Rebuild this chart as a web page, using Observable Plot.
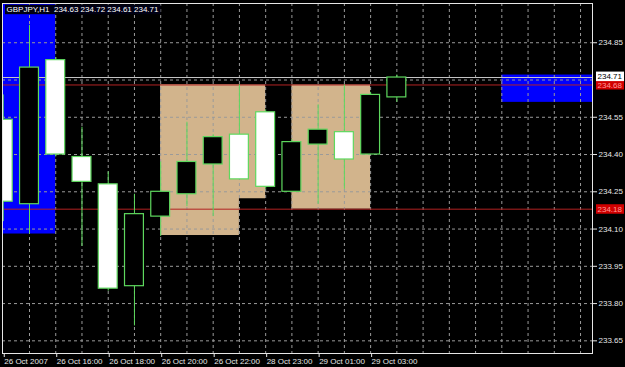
<!DOCTYPE html>
<html><head><meta charset="utf-8">
<script src="https://cdn.jsdelivr.net/npm/d3@7"></script>
<script src="https://cdn.jsdelivr.net/npm/@observablehq/plot@0.6"></script>
<style>html,body{margin:0;padding:0;background:#000;overflow:hidden}</style>
</head><body><div id="chart"></div>
<script>
// ---- data ----
const titleText = "GBPJPY,H1  234.63 234.72 234.61 234.71";
const bars   = [0, 1, 2, 3, 4, 5, 6, 7, 8, 9, 10, 11, 12, 13, 14, 15];
const opens  = [234.54, 234.20, 234.78, 234.39, 234.28, 233.87, 234.15, 234.24, 234.36, 234.48, 234.57, 234.25, 234.44, 234.49, 234.40, 234.63];
const highs  = [234.64, 234.92, 234.79, 234.51, 234.33, 234.24, 234.37, 234.53, 234.48, 234.68, 234.58, 234.46, 234.60, 234.68, 234.65, 234.72];
const lows   = [234.13, 234.08, 234.39, 234.03, 233.85, 233.71, 234.07, 234.19, 234.15, 234.30, 234.26, 234.25, 234.20, 234.26, 234.40, 234.61];
const closes = [234.21, 234.75, 234.40, 234.29, 233.86, 234.16, 234.25, 234.37, 234.47, 234.30, 234.27, 234.45, 234.50, 234.38, 234.64, 234.71];

const tickBars   = [0, 2, 4, 6, 8, 10, 12, 14];
const tickLabels = ["26 Oct 2007", "26 Oct 16:00", "26 Oct 18:00", "26 Oct 20:00", "26 Oct 22:00", "28 Oct 23:00", "29 Oct 01:00", "29 Oct 03:00"];
const gridBars   = [1, 2, 3, 4, 5, 6, 7, 8, 9, 10, 11, 12, 13, 14, 15, 16, 17, 18, 19, 20, 21, 22];
const priceTicks = [233.65, 233.80, 233.95, 234.10, 234.25, 234.40, 234.55, 234.85];
const gridPrices = [233.65, 233.80, 233.95, 234.10, 234.25, 234.40, 234.55, 234.70, 234.85];

const blueFrom = [-1, 19], blueTo = [2, 25], blueLow = [234.08, 234.61], blueHigh = [235.2, 234.72];
const tanFrom = [6, 6, 11], tanTo = [9, 10, 14], tanLow = [234.074, 234.222, 234.18], tanHigh = [234.68, 234.68, 234.68];
const levelPrices = [234.68, 234.18];
const bidPrice = 234.71;

// ---- tables ----
const candles = bars.map((i, k) => ({i, o: opens[k], h: highs[k], l: lows[k], c: closes[k]}));
const blue = blueFrom.map((f, k) => ({from: f, to: blueTo[k], low: blueLow[k], high: blueHigh[k]}));
const tan = tanFrom.map((f, k) => ({from: f, to: tanTo[k], low: tanLow[k], high: tanHigh[k]}));

const green = "#5ed85e";
const gridColor = "#9a9a9a";

const plot = Plot.plot({
  width: 625, height: 367,
  marginLeft: 2, marginRight: 33, marginTop: 3, marginBottom: 14,
  style: {background: "#000", color: "#e6e6e6", fontFamily: "'Liberation Sans', Arial, sans-serif", fontSize: "8px"},
  x: {type: "linear", domain: [-0.029, 22.456], axis: null},
  y: {domain: [233.599, 235.008], axis: null},
  marks: [
    Plot.rect(blue, {x1: "from", x2: "to", y1: "low", y2: "high", fill: "#0000ff", clip: true}),
    Plot.rect(tan, {x1: "from", x2: "to", y1: "low", y2: "high", fill: "#d2b48c", clip: true}),
    Plot.ruleX(gridBars, {stroke: gridColor, strokeDasharray: "3,3"}),
    Plot.ruleY(gridPrices, {stroke: gridColor, strokeDasharray: "3,3"}),
    Plot.ruleY([bidPrice], {stroke: "#c8c8c8"}),
    Plot.ruleY(levelPrices, {stroke: "#b22222"}),
    Plot.ruleX(candles, {x: "i", y1: "l", y2: "h", stroke: green, clip: true}),
    Plot.rect(candles, {x1: d => d.i - 0.36, x2: d => d.i + 0.36, y1: "o", y2: "c",
      fill: d => d.c > d.o ? "#000" : "#fff", stroke: green, strokeWidth: 1.2, clip: true}),
    Plot.frame({stroke: "#e6e6e6"}),
    Plot.axisY(priceTicks, {anchor: "right", tickSize: 4, tickPadding: 2, tickFormat: d => d.toFixed(2)}),
    Plot.axisX(tickBars, {anchor: "bottom", tickSize: 4, tickPadding: 1, textAnchor: "start", dx: 1,
      tickFormat: d => tickLabels[tickBars.indexOf(d)]}),
    Plot.text([titleText], {frameAnchor: "top-left", dx: 4, dy: 3, textAnchor: "start", lineAnchor: "top",
      fill: "#ffffff", fontSize: 8, className: "lbl-title"}),
    Plot.text(levelPrices, {y: d => d, frameAnchor: "right", dx: 5, textAnchor: "start",
      text: d => d.toFixed(2), fill: "#ff9a9a", fontSize: 8, className: "lbl-red"}),
    Plot.text([bidPrice], {y: d => d, frameAnchor: "right", dx: 5, dy: -1, textAnchor: "start",
      text: d => d.toFixed(2), fill: "#000", fontSize: 8, className: "lbl-bid"})
  ]
});
document.getElementById("chart").appendChild(plot);

// backgrounds behind the price labels / title
function boxes(cls, fill, stroke) {
  plot.querySelectorAll("." + cls + " text").forEach(t => {
    const b = t.getBBox();
    const r = document.createElementNS("http://www.w3.org/2000/svg", "rect");
    r.setAttribute("x", b.x - 1.5); r.setAttribute("y", b.y - 0.5);
    r.setAttribute("width", b.width + 3); r.setAttribute("height", b.height + 0.5);
    r.setAttribute("fill", fill);
    if (stroke) r.setAttribute("stroke", stroke);
    const tr = t.getAttribute("transform");
    if (tr) r.setAttribute("transform", tr);
    t.parentNode.insertBefore(r, t);
  });
}
boxes("lbl-title", "#000014");
boxes("lbl-red", "#d00000");
boxes("lbl-bid", "#ffffff");
</script>
</body></html>
